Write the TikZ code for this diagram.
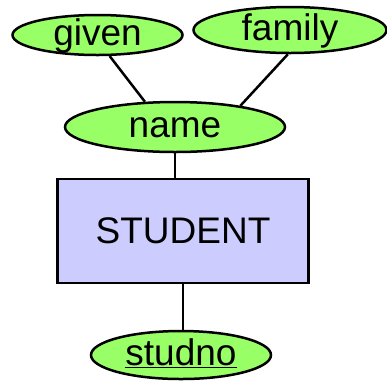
\documentclass[tikz,border=0pt]{standalone}
\usepackage{fontspec}
\setmainfont{Liberation Sans}
\usepackage{tikz}
\usetikzlibrary{shapes,positioning}
\definecolor{attrgreen}{RGB}{153,255,102}
\definecolor{entityblue}{RGB}{204,204,255}

\begin{document}
\begin{tikzpicture}[x=1pt,y=1pt,line width=2.5pt,font=\fontsize{37}{44}\selectfont]
\tikzstyle{attr}=[ellipse,draw=black,fill=attrgreen,inner sep=0pt,text height=20pt,text depth=0pt]
\tikzstyle{entity}=[rectangle,draw=black,fill=entityblue,minimum width=251pt,minimum height=104pt]
\useasboundingbox (0,0) rectangle (387,-384);
\node[attr,minimum width=170pt,minimum height=40pt] (given) at (97.5,-35) {given};
\node[attr,minimum width=193pt,minimum height=46pt] (family) at (290,-30) {family};
\node[attr,minimum width=220pt,minimum height=50pt] (name) at (175,-127) {name};
\node[entity] (student) at (183,-231) {STUDENT};
\node[attr,minimum width=180pt,minimum height=48pt] (studno) at (181,-355) {\underline{studno}};
\draw (given.-60) -- (name.140);
\draw (family.-95) -- (name.18);
\draw (name.south) -- (name.south |- student.north);
\draw (student.south) -- (student.south |- studno.north);
\end{tikzpicture}
\end{document}
